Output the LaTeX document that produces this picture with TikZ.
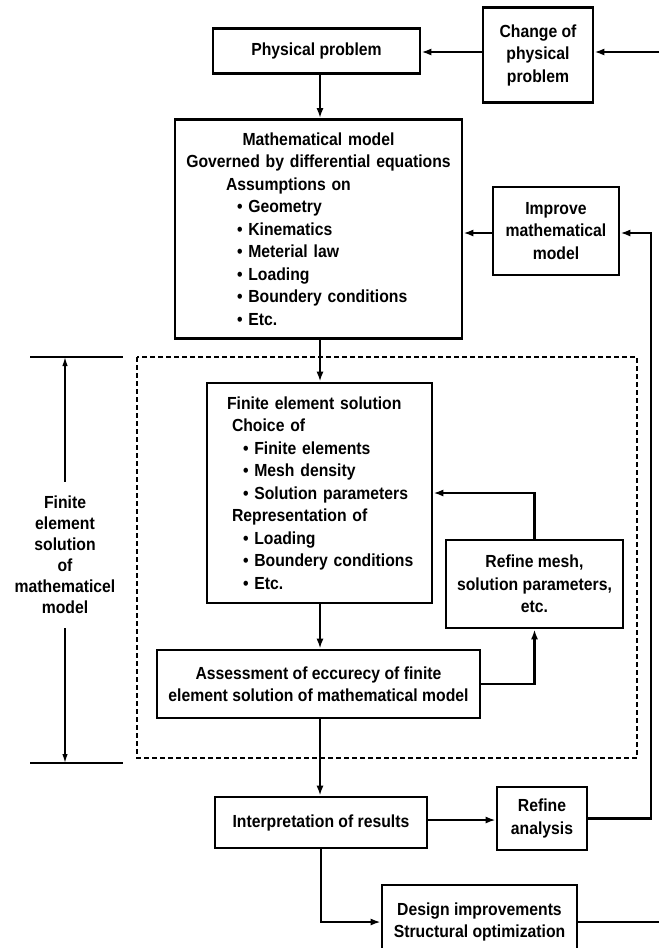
\documentclass[tikz,border=0pt]{standalone}
\usepackage{fontspec}
\newfontfamily\lab[FakeStretch=0.9]{Liberation Sans Bold}
\usetikzlibrary{arrows.meta,calc}
\begin{document}
\begin{tikzpicture}[x=1pt,y=-1pt,
  txt/.style={inner sep=0pt,align=center,font={\lab\fontsize{17.5}{22.5}\selectfont}},
  box/.style={txt,draw,line width=2.6pt},
  conn/.style={line width=2.1pt,-{Latex[length=10pt,width=7pt]}},
  plain/.style={line width=2.1pt},
  dim/.style={line width=1.4pt,-{Latex[length=9pt,width=5.5pt]}}]
\useasboundingbox (0,0) rectangle (659,948);
\clip (0,0) rectangle (659,948);
\fill[white] (0,0) rectangle (659,948);

% boxes
\node[box,minimum width=207pt,minimum height=45pt] (phys) at (316.5,51) {Physical problem};
\node[box,minimum width=110pt,minimum height=95pt] (change) at (538,55) {Change of\\physical\\problem};
\node[box,minimum width=287pt,minimum height=219pt,text width=287pt,align=left] (math) at (318.5,229)
 {\makebox[287pt][c]{Mathematical model}\\
  \makebox[287pt][c]{Governed by differential equations}\\
  \hspace*{51pt}Assumptions on\\
  \hspace*{62pt}\textbullet\ Geometry\\
  \hspace*{62pt}\textbullet\ Kinematics\\
  \hspace*{62pt}\textbullet\ Meterial law\\
  \hspace*{62pt}\textbullet\ Loading\\
  \hspace*{62pt}\textbullet\ Boundery conditions\\
  \hspace*{62pt}\textbullet\ Etc.};
\node[box,minimum width=126pt,minimum height=88pt] (improve) at (556,231) {Improve\\mathematical\\model};
\node[box,minimum width=225pt,minimum height=220pt,text width=225pt,align=left] (fe) at (319.5,493)
 {\hspace*{20pt}Finite element solution\\
  \hspace*{25pt}Choice of\\
  \hspace*{36pt}\textbullet\ Finite elements\\
  \hspace*{36pt}\textbullet\ Mesh density\\
  \hspace*{36pt}\textbullet\ Solution parameters\\
  \hspace*{25pt}Representation of\\
  \hspace*{36pt}\textbullet\ Loading\\
  \hspace*{36pt}\textbullet\ Boundery conditions\\
  \hspace*{36pt}\textbullet\ Etc.};
\node[box,minimum width=177pt,minimum height=88pt] (refmesh) at (534.5,584) {Refine mesh,\\solution parameters,\\etc.};
\node[box,minimum width=323pt,minimum height=68pt] (assess) at (318.5,684) {Assessment of eccurecy of finite\\element solution of mathematical model};
\node[box,minimum width=212pt,minimum height=51pt] (interp) at (321,822.5) {Interpretation of results};
\node[box,minimum width=90pt,minimum height=63pt] (refan) at (542,818.5) {Refine\\analysis};
\node[box,minimum width=195pt,minimum height=74pt] (design) at (479.5,922) {Design improvements\\Structural optimization};

% dashed region
\draw[line width=1.5pt,dash pattern=on 5pt off 3pt] (137,357) rectangle (637,758);

% dimension on the left
\draw[line width=1.7pt] (30,357) -- (123,357);
\draw[line width=1.7pt] (30,763) -- (123,763);
\node[txt,inner sep=14pt,font={\lab\fontsize{17.5}{21}\selectfont}] (dimlabel) at (65,555) {Finite\\element\\solution\\of\\mathematicel\\model};
\coordinate (dimtop) at (65,357);
\coordinate (dimbot) at (65,763);
\draw[dim] (dimlabel.north) -- (dimtop);
\draw[dim] (dimlabel.south) -- (dimbot);

% free ends and corners
\coordinate (cin) at (659,52);
\coordinate (rcol) at (651,0);
\coordinate (dout) at (659,922);

% connectors
\draw[conn] (cin) -- (cin -| change.east);
\draw[conn] (change.west |- cin) -- (phys.east |- cin);
\draw[conn] (phys.south -| 320,0) -- (math.north -| 320,0);
\draw[conn] (improve.west |- 0,233) -- (math.east |- 0,233);
\draw[conn] (refan.east) -| (rcol |- 0,233) -- (improve.east |- 0,233);
\draw[conn] (math.south -| 320,0) -- (fe.north -| 320,0);
\draw[conn] (fe.south -| 320,0) -- (assess.north -| 320,0);
\draw[conn] (assess.east) -| (refmesh.south);
\draw[conn] (refmesh.north) |- (fe.east);
\draw[conn] (assess.south -| 320,0) -- (interp.north -| 320,0);
\draw[conn] (interp.east |- 0,820) -- (refan.west |- 0,820);
\draw[conn] (interp.south) |- (design.west);
\draw[plain] (design.east) -- (dout);
\end{tikzpicture}
\end{document}
